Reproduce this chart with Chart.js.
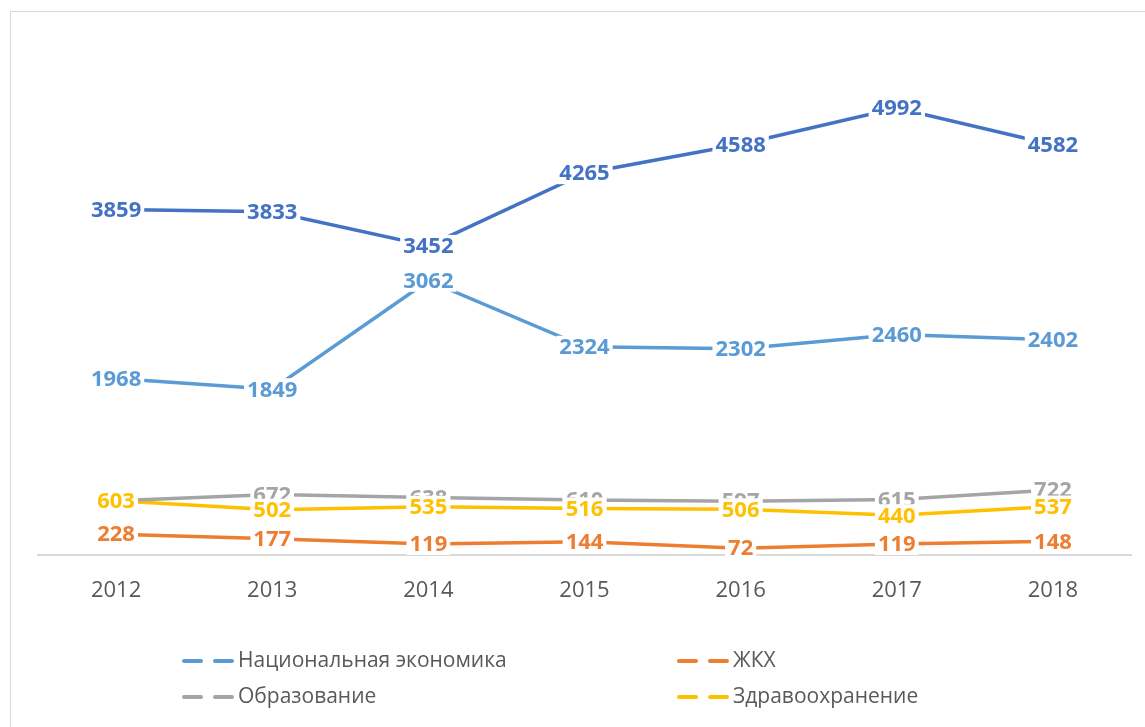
<!DOCTYPE html>
<html>
<head>
<meta charset="utf-8">
<script src="https://cdn.jsdelivr.net/npm/chart.js@4/dist/chart.umd.min.js"></script>
<style>
  html, body { margin: 0; padding: 0; background: #fff; overflow: hidden; }
  .frame { position: absolute; left: 10px; top: 11px; width: 1200px; height: 800px; border: 1px solid #d9d9d9; }
  .wrap { position: absolute; left: 0; top: 0; width: 1145px; height: 727px; }
</style>
</head>
<body>
<div class="frame"></div>
<div class="wrap"><canvas id="chart"></canvas></div>
<script>
const years = ['2012', '2013', '2014', '2015', '2016', '2017', '2018'];
const total = [3859, 3833, 3452, 4265, 4588, 4992, 4582];
const economy = [1968, 1849, 3062, 2324, 2302, 2460, 2402];
const housing = [228, 177, 119, 144, 72, 119, 148];
const education = [603, 672, 638, 610, 597, 615, 722];
const health = [603, 502, 535, 516, 506, 440, 537];

const seriesNames = ['Всего', 'Национальная экономика', 'ЖКХ', 'Образование', 'Здравоохранение'];
const seriesColors = ['#4472C4', '#5B9BD5', '#ED7D31', '#A5A5A5', '#FFC000'];
const seriesValues = [total, economy, housing, education, health];

const FONT = '"Open Sans", "Noto Sans", sans-serif';

// value labels with white boxes, drawn over the lines
const valueLabels = {
  id: 'valueLabels',
  afterDatasetsDraw(chart) {
    const ctx = chart.ctx;
    ctx.save();
    ctx.font = 'bold 22px ' + FONT;
    ctx.textAlign = 'center';
    ctx.textBaseline = 'middle';
    chart.data.datasets.forEach((ds, i) => {
      const meta = chart.getDatasetMeta(i);
      meta.data.forEach((pt, j) => {
        const txt = String(ds.data[j]);
        const w = ctx.measureText(txt).width;
        ctx.fillStyle = '#fff';
        ctx.fillRect(pt.x - w / 2 - 3, pt.y - 11, w + 6, 22);
        ctx.fillStyle = ds.borderColor;
        ctx.fillText(txt, pt.x, pt.y + 1);
      });
    });
    ctx.restore();
  }
};

// 2x2 legend, first series has no entry
const gridLegend = {
  id: 'gridLegend',
  afterDraw(chart) {
    const ctx = chart.ctx;
    const spots = [[1, 182, 661], [2, 677, 661], [3, 182, 697], [4, 677, 697]];
    ctx.save();
    ctx.font = '21px ' + FONT;
    ctx.textBaseline = 'middle';
    spots.forEach(([i, x, y]) => {
      const ds = chart.data.datasets[i];
      ctx.strokeStyle = ds.borderColor;
      ctx.lineWidth = 4;
      ctx.lineCap = 'round';
      ctx.beginPath();
      ctx.moveTo(x + 2, y); ctx.lineTo(x + 19, y);
      ctx.moveTo(x + 33, y); ctx.lineTo(x + 50, y);
      ctx.stroke();
      ctx.fillStyle = '#595959';
      ctx.fillText(ds.label, x + 56, y);
    });
    ctx.restore();
  }
};

new Chart(document.getElementById('chart'), {
  type: 'line',
  data: {
    labels: years,
    datasets: seriesValues.map((vals, i) => ({
      label: seriesNames[i],
      data: vals,
      borderColor: seriesColors[i],
      backgroundColor: seriesColors[i],
      borderWidth: 3.5,
      pointRadius: 0,
      tension: 0,
      borderCapStyle: 'round',
      order: i
    }))
  },
  options: {
    responsive: true,
    maintainAspectRatio: false,
    animation: false,
    layout: { padding: { left: 38, right: 14, top: 18, bottom: 108 } },
    plugins: {
      legend: { display: false },
      tooltip: { enabled: false }
    },
    scales: {
      x: {
        offset: true,
        grid: { display: false },
        border: { display: true, color: '#d9d9d9', width: 2 },
        ticks: { color: '#595959', font: { family: FONT, size: 22 }, padding: 15 }
      },
      y: {
        display: false,
        min: 0,
        max: 6000
      }
    }
  },
  plugins: [valueLabels, gridLegend]
});
</script>
</body>
</html>
